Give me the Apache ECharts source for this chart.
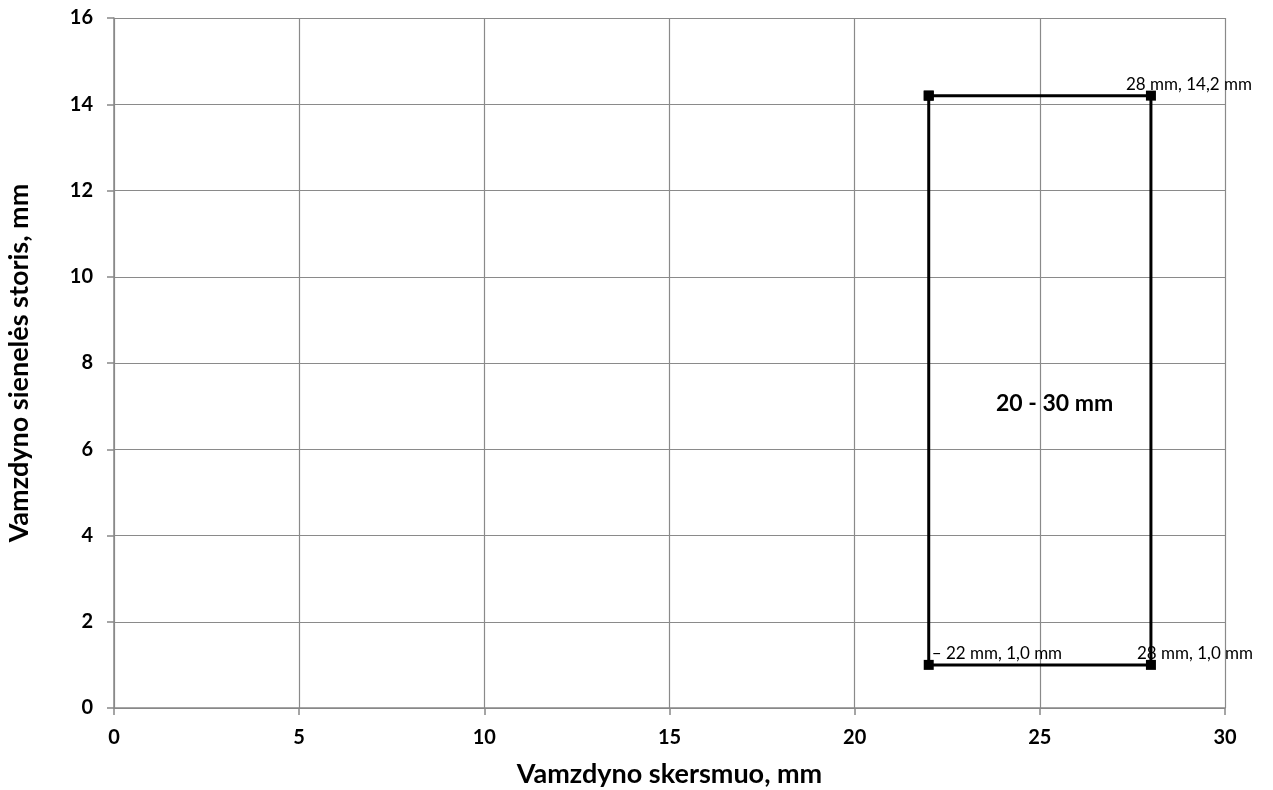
<!DOCTYPE html>
<html><head><meta charset="utf-8">
<script src="https://cdn.jsdelivr.net/npm/echarts@6/dist/echarts.min.js"></script>
<style>html,body{margin:0;padding:0;background:#fff}#c{width:1273px;height:790px}</style>
</head><body><div id="c"></div>
<script>
const xName = 'Vamzdyno skersmuo, mm';
const yName = 'Vamzdyno sienelės storis, mm';
const diameters = [22, 28, 28, 22, 22];
const thicknesses = [14.2, 14.2, 1.0, 1.0, 14.2];
const pointLabels = ['', '28 mm, 14,2 mm', '28 mm, 1,0 mm', '– 22 mm, 1,0 mm', ''];
const rangeLabel = '20 - 30 mm';
const rangeLabelAt = [25.4, 7.05];
const xTicks = {min: 0, max: 30, interval: 5};
const yTicks = {min: 0, max: 16, interval: 2};

const font = 'Lato, "Open Sans", sans-serif';
const labelOffsets = [null, [-20, -6], [-9, -6], [8, -6], null];
const data = diameters.map((d, i) => {
  const item = {value: [d, thicknesses[i]]};
  if (pointLabels[i]) {
    item.label = {show: true, formatter: pointLabels[i], position: labelOffsets[i],
      align: 'left', verticalAlign: 'middle'};
  }
  return item;
});

const chart = echarts.init(document.getElementById('c'));
chart.setOption({
  animation: false,
  grid: {left: 114, right: 48, top: 18, bottom: 82, containLabel: false, outerBoundsMode: 'none'},
  xAxis: {
    type: 'value', min: xTicks.min, max: xTicks.max, interval: xTicks.interval,
    name: xName, nameLocation: 'middle', nameGap: 53,
    nameTextStyle: {fontFamily: font, fontWeight: 'bold', fontSize: 27, color: '#000'},
    axisLine: {show: true, lineStyle: {color: '#888', width: 1.5}},
    axisTick: {show: true, length: 7, lineStyle: {color: '#888', width: 1.5}},
    axisLabel: {fontFamily: font, fontWeight: 'bold', fontSize: 20, color: '#000', margin: 20},
    splitLine: {show: true, lineStyle: {color: '#8a8a8a', width: 1.2}}
  },
  yAxis: {
    type: 'value', min: yTicks.min, max: yTicks.max, interval: yTicks.interval,
    name: yName, nameLocation: 'middle', nameGap: 81, nameRotate: 90,
    nameTextStyle: {fontFamily: font, fontWeight: 'bold', fontSize: 27, color: '#000'},
    axisLine: {show: true, lineStyle: {color: '#888', width: 1.5}},
    axisTick: {show: true, length: 7, lineStyle: {color: '#888', width: 1.5}},
    axisLabel: {fontFamily: font, fontWeight: 'bold', fontSize: 20, color: '#000', margin: 21},
    splitLine: {show: true, lineStyle: {color: '#8a8a8a', width: 1.2}}
  },
  series: [{
    type: 'line', data: data,
    symbol: 'rect', symbolSize: 10,
    lineStyle: {color: '#000', width: 3},
    itemStyle: {color: '#000'},
    label: {fontFamily: font, fontSize: 17, color: '#000'},
    markPoint: {
      symbol: 'circle', symbolSize: 0,
      label: {show: true, formatter: rangeLabel, fontFamily: font, fontWeight: 'bold', fontSize: 23, color: '#000', position: 'inside'},
      data: [{coord: rangeLabelAt}]
    }
  }]
});
</script></body></html>
